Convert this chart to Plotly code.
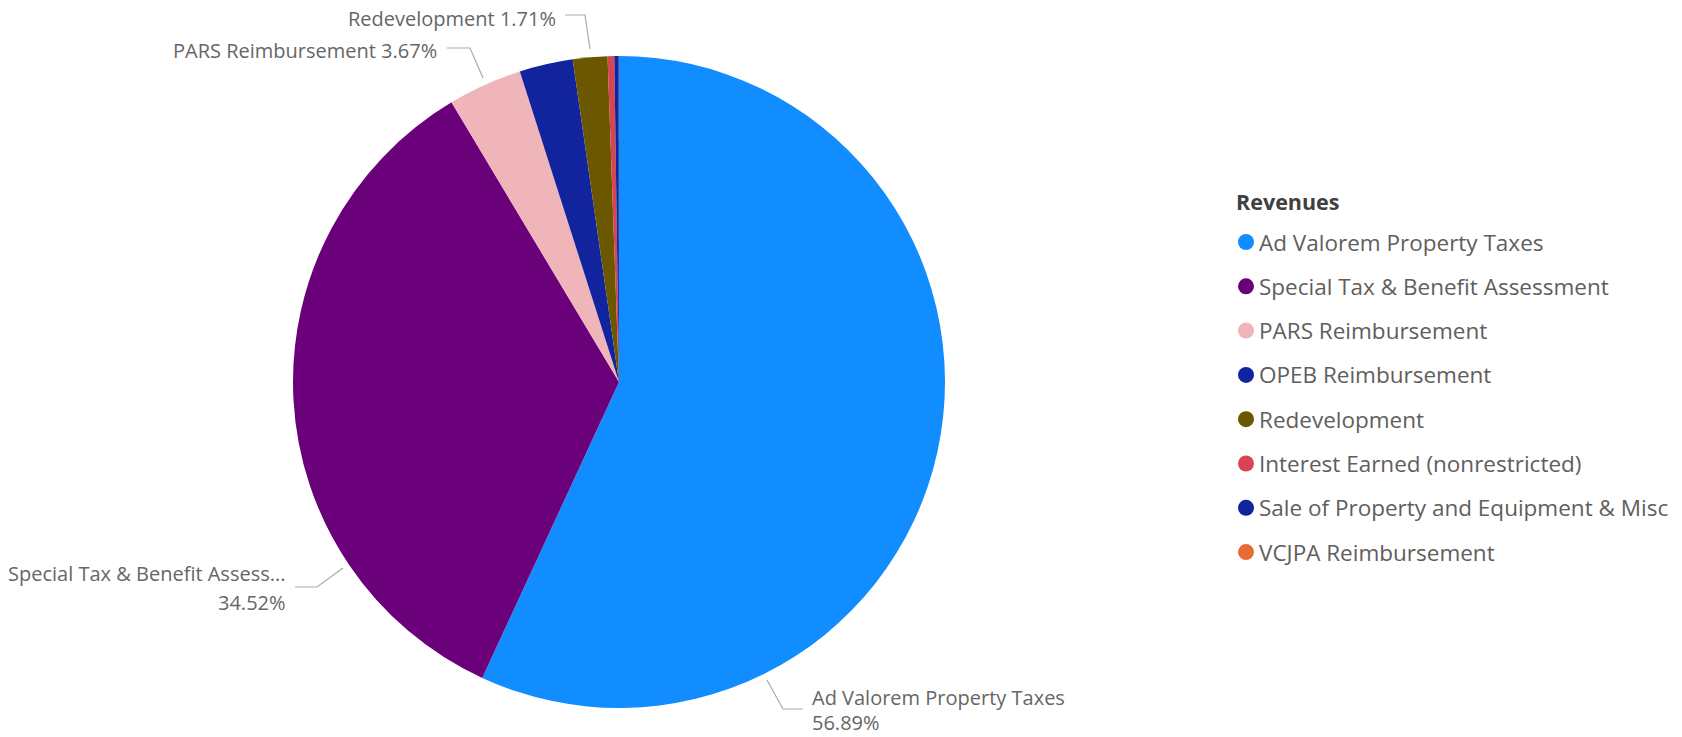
import plotly.graph_objects as go

# ---- data ----
categories = [
    "Ad Valorem Property Taxes",
    "Special Tax & Benefit Assessment",
    "PARS Reimbursement",
    "OPEB Reimbursement",
    "Redevelopment",
    "Interest Earned (nonrestricted)",
    "Sale of Property and Equipment & Misc",
    "VCJPA Reimbursement",
]
shares = [56.89, 34.52, 3.67, 2.65, 1.71, 0.33, 0.22, 0.01]
colors = ["#118DFF", "#6B007B", "#EFB5B9", "#12239E", "#6B5700", "#D64550", "#12239E", "#E66C37"]
legend_title = "Revenues"

W, H = 1682, 737
FONT = "Segoe UI, Open Sans, sans-serif"
LABEL_COLOR = "#666666"
LEGEND_COLOR = "#605E5C"
LINE_COLOR = "#AAAAAA"


def px(x):
    return x / W


def py(y):
    return 1 - y / H


fig = go.Figure()
fig.add_trace(go.Pie(
    labels=categories,
    values=shares,
    marker=dict(colors=colors, line=dict(width=0)),
    sort=False,
    direction="clockwise",
    rotation=0,
    textinfo="none",
    showlegend=False,
    hovertemplate="%{label}: %{value:.2f}%<extra></extra>",
    domain=dict(x=[px(293), px(945)], y=[py(708), py(56)]),
))

annotations = []
shapes = []

# data labels (index, lines, anchor x, y positions, xanchor, leader path)
label_specs = [
    (0, [(f"{categories[0]}", 697), (f"{shares[0]:.2f}%", 722.5)], 810, "left",
     [(767, 680), (783, 709), (803, 709)]),
    (1, [("Special Tax & Benefit Assess...", 573), (f"{shares[1]:.2f}%", 602)], 288, "right",
     [(343, 568), (317, 587), (295, 587)]),
    (2, [(f"{categories[2]} {shares[2]:.2f}%", 50)], 439, "right",
     [(483, 78), (470, 48), (447, 48)]),
    (4, [(f"{categories[4]} {shares[4]:.2f}%", 18)], 558, "right",
     [(590, 49), (585, 15), (565, 15)]),
]
for idx, lines, ax, anchor, path in label_specs:
    for text, y in lines:
        annotations.append(dict(
            x=px(ax), y=py(y), xref="paper", yref="paper", text=text,
            showarrow=False, xanchor=anchor, yanchor="middle",
            font=dict(family=FONT, size=20, color=LABEL_COLOR),
        ))
    d = "M " + " L ".join(f"{px(a)},{py(b)}" for a, b in path)
    shapes.append(dict(type="path", xref="paper", yref="paper", path=d,
                       line=dict(color=LINE_COLOR, width=1.2)))

# manual legend
annotations.append(dict(
    x=px(1234), y=py(202), xref="paper", yref="paper",
    text=f"<b>{legend_title}</b>", showarrow=False, xanchor="left", yanchor="middle",
    font=dict(family=FONT, size=21.5, color="#404040"),
))
y0, dy = 242, 44.3
for i, (cat, col) in enumerate(zip(categories, colors)):
    yc = y0 + i * dy
    shapes.append(dict(type="circle", xref="paper", yref="paper",
                       x0=px(1238), x1=px(1254), y0=py(yc + 8), y1=py(yc - 8),
                       fillcolor=col, line=dict(width=0)))
    annotations.append(dict(
        x=px(1257), y=py(yc), xref="paper", yref="paper", text=cat,
        showarrow=False, xanchor="left", yanchor="middle",
        font=dict(family=FONT, size=22.5, color=LEGEND_COLOR),
    ))

fig.update_layout(
    width=W, height=H,
    margin=dict(l=0, r=0, t=0, b=0),
    paper_bgcolor="white",
    plot_bgcolor="white",
    annotations=annotations,
    shapes=shapes,
)

fig.write_html("out.html")
